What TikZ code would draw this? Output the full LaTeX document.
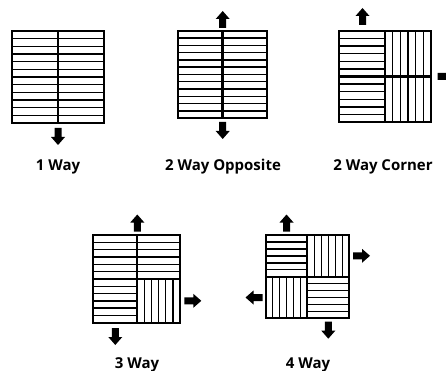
\documentclass[tikz,border=0pt]{standalone}
\usepackage{fontspec}
\setmainfont{Open Sans}
\newcommand\myquadH[4]{%
  \foreach \i in {1,...,5}
    \draw[strip] (#1,{#2+\i*(#4-#2)/6}) -- (#3,{#2+\i*(#4-#2)/6});}
\newcommand\myquadV[4]{%
  \foreach \i in {1,...,5}
    \draw[strip] ({#1+\i*(#3-#1)/6},#2) -- ({#1+\i*(#3-#1)/6},#4);}
\tikzset{
  strip/.style={line width=1.4pt},
  frame/.style={line width=2.1pt},
  divider/.style={line width=2.1pt},
  lab/.style={anchor=base,font=\bfseries\fontsize{15}{17}\selectfont,inner sep=0pt},
  barrow/.pic={\fill (-3.5,0) -- (-3.5,9) -- (-7,9) -- (0,17) -- (7,9) -- (3.5,9) -- (3.5,0) -- cycle;}
}
\begin{document}
\begin{tikzpicture}[x=1pt,y=-1pt]
\useasboundingbox (0,0) rectangle (446,371);
% ---- 1 Way
\myquadH{12}{31}{104}{77}
\myquadH{12}{77}{104}{123}
\draw[divider] (58,31) -- (58,123);
\draw[divider] (12,77) -- (104,77);
\draw[frame] (12,31) rectangle (104,123);
\pic at (58,128) {barrow};
\node[lab] (l1) at (58,170.7) {1 Way};
% ---- 2 Way Opposite
\myquadH{178.3}{30.7}{267.3}{74.5}
\myquadH{178.3}{74.5}{267.3}{118.3}
\draw[strip] (178.3,74.5) -- (267.3,74.5);
\draw[divider] (222.5,30.7) -- (222.5,118.3);
\draw[frame] (178.3,30.7) rectangle (267.3,118.3);
\pic[rotate=180] at (222.7,28) {barrow};
\pic at (222.7,122) {barrow};
\node[lab] (l2) at (223,170.7) {2 Way Opposite};
% ---- 2 Way Corner
\myquadH{339.3}{30.7}{385}{76.5}
\myquadH{339.3}{76.5}{385}{122.3}
\myquadV{385}{30.7}{431}{76.5}
\myquadV{385}{76.5}{431}{122.3}
\draw[divider] (385,30.7) -- (385,122.3);
\draw[divider] (339.3,76.5) -- (431,76.5);
\draw[frame] (339.3,30.7) rectangle (431,122.3);
\pic[rotate=180] at (362.5,25) {barrow};
\pic[rotate=90] at (437.5,76.5) {barrow};
\node[lab] (l3) at (383,170.7) {2 Way Corner};
% ---- 3 Way
\myquadH{93.3}{235}{137.3}{279}
\myquadH{137.3}{235}{180}{279}
\myquadH{93.3}{279}{137.3}{322.7}
\myquadV{137.3}{279}{180}{322.7}
\draw[divider] (137.3,235) -- (137.3,322.7);
\draw[divider] (93.3,279) -- (180,279);
\draw[frame] (93.3,235) rectangle (180,322.7);
\pic[rotate=180] at (137.3,231.5) {barrow};
\pic[rotate=90] at (184.3,300.8) {barrow};
\pic at (115.3,328) {barrow};
\node[lab] (l4) at (137,368) {3 Way};
% ---- 4 Way
\myquadH{265.7}{235}{307.3}{276.7}
\myquadV{307.3}{235}{349.3}{276.7}
\myquadV{265.7}{276.7}{307.3}{318.3}
\myquadH{307.3}{276.7}{349.3}{318.3}
\draw[divider] (307.3,235) -- (307.3,318.3);
\draw[divider] (265.7,276.7) -- (349.3,276.7);
\draw[frame] (265.7,235) rectangle (349.3,318.3);
\pic[rotate=180] at (286.5,231.5) {barrow};
\pic[rotate=90] at (353,255.8) {barrow};
\pic[rotate=-90] at (262.5,297.5) {barrow};
\pic at (328.3,321.7) {barrow};
\node[lab] (l5) at (308,368) {4 Way};
\end{tikzpicture}
\end{document}
